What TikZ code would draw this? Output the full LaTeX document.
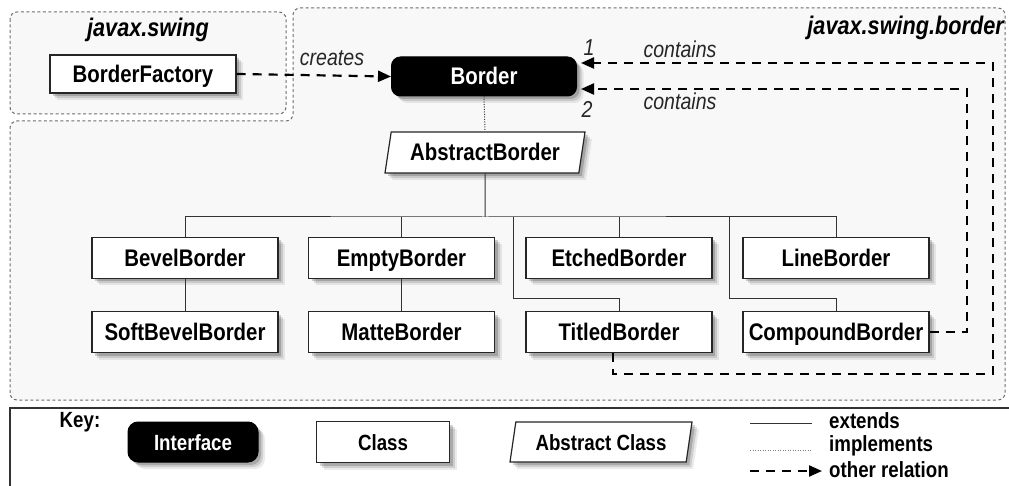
\documentclass[tikz,border=0pt]{standalone}
\usepackage{fontspec}
\setmainfont{Liberation Sans}[FakeStretch=0.85]
\usetikzlibrary{arrows.meta,shadows,shapes.geometric,calc}
\definecolor{pkgfill}{RGB}{248,248,248}
\definecolor{pkgline}{RGB}{110,110,110}
\newcommand\nfont{\fontsize{24}{27}\selectfont\bfseries}
\newcommand\lfont{\fontsize{23}{26}\selectfont\itshape}
\newcommand\pfont{\fontsize{25.5}{28}\selectfont\bfseries\itshape}
\newcommand\kfont{\fontsize{22}{25}\selectfont\bfseries}
\tikzset{
  shad/.style={drop shadow={shadow xshift=7pt,shadow yshift=-7pt,opacity=0.08,fill=black},
               drop shadow={shadow xshift=5pt,shadow yshift=-5pt,opacity=0.12,fill=black},
               drop shadow={shadow xshift=3pt,shadow yshift=-3pt,opacity=0.18,fill=black}},
  cls/.style={shad,draw=black!85,line width=1.2pt,fill=white,minimum width=186pt,minimum height=41pt,inner sep=0pt,font=\nfont,text height=17pt,text depth=0pt},
  ifc/.style={shad,draw=black,fill=black,text=white,rounded corners=9pt,line width=1pt,minimum width=185pt,minimum height=39pt,inner sep=0pt,font=\nfont,text height=17pt,text depth=0pt},
  abs/.style={shad,trapezium,trapezium left angle=70,trapezium right angle=110,trapezium stretches body=true,draw=black!85,line width=1.2pt,fill=white,minimum width=200pt,minimum height=41pt,inner sep=0pt,font=\nfont,text height=17pt,text depth=0pt},
  pkg/.style={draw=pkgline,fill=pkgfill,line width=1pt,dash pattern=on 3pt off 2.5pt,rounded corners=7pt},
  ext/.style={draw=black!80,line width=1pt},
  impl/.style={draw=black!80,line width=1pt,dash pattern=on 1pt off 1.5pt},
  rel/.style={draw=black,line width=2.2pt,dash pattern=on 9pt off 7pt,-{Triangle[length=13pt,width=11pt]}},
  lbl/.style={font=\lfont,inner sep=0pt,text=black!85},
  plbl/.style={font=\pfont,inner sep=0pt},
  ktxt/.style={font=\kfont,inner sep=0pt},
  kbox/.style={font=\kfont,text height=16pt,text depth=0pt},
}
\begin{document}
\begin{tikzpicture}[x=1pt,y=-1pt]
\useasboundingbox (0,0) rectangle (1009,486);
% packages
\path[pkg] (293,8) -- (1005,8) -- (1005,400) -- (10,400) -- (10,121) -- (293,121) -- cycle;
\path[pkg] (10,12) rectangle (286,114);
% key frame
\draw[black!80,line width=1.5pt] (1015,408) -- (10,408) -- (10,492);
% package labels
\node[plbl,anchor=base] (swlbl) at (148,37) {javax.swing};
\node[plbl,anchor=base east] (bolbl) at (1004,35) {javax.swing.border};
% classes
\node[cls,minimum height=38pt] (factory) at (143,74) {BorderFactory};
\node[ifc] (border) at (484,76.5) {Border};
\node[abs] (abstract) at (485,152.5) {AbstractBorder};
\node[cls] (bevel) at (185,258) {BevelBorder};
\node[cls] (empty) at (401.5,258) {EmptyBorder};
\node[cls] (etched) at (619,258) {EtchedBorder};
\node[cls] (line) at (836,258) {LineBorder};
\node[cls] (soft) at (185,332) {SoftBevelBorder};
\node[cls] (matte) at (401.5,332) {MatteBorder};
\node[cls] (titled) at (619,332) {TitledBorder};
\node[cls] (compound) at (836,332) {CompoundBorder};
% tree
\coordinate (bus) at (485,217);
\coordinate (tb) at (513,217);
\coordinate (cb) at (729,217);
\draw[impl] (border.south) -- (abstract.north);
\draw[ext] (abstract.south) -- (bus);
\draw[ext] (bevel.north) |- (bus) -| (line.north);
\draw[ext] (empty.north) -- (empty.north |- bus);
\draw[ext] (etched.north) -- (etched.north |- bus);
\draw[ext] (titled.north) -- ++(0,-12) -| (tb);
\draw[ext] (compound.north) -- ++(0,-12) -| (cb);
\draw[ext] (bevel.south) -- (soft.north);
\draw[ext] (empty.south) -- (matte.north);
% other relations
\draw[rel] (factory.east) -- (border.west);
\node[lbl,anchor=base] (creates) at (332,66) {creates};
\coordinate (c1) at (993,63);
\coordinate (c2) at (967,89);
\draw[rel] ([xshift=-6pt]titled.south) -- ++(0,21) -| (c1) -- ([yshift=13.5pt,xshift=4pt]border.east);
\draw[rel] (compound.east) -| (c2) -- ([yshift=-12.5pt,xshift=4pt]border.east);
\node[lbl,anchor=base] (n1) at (589,56) {1};
\node[lbl,anchor=base] (cont1) at (680,58) {contains};
\node[lbl,anchor=base] (n2) at (587,118) {2};
\node[lbl,anchor=base] (cont2) at (680,110) {contains};
% key
\node[ktxt,anchor=base] (key) at (80,427) {Key:};
\node[ifc,kbox,minimum width=130pt,minimum height=40pt,rounded corners=10pt] (kifc) at (193,442) {Interface};
\node[cls,kbox,minimum width=133pt] (kcls) at (383,442) {Class};
\node[abs,kbox,minimum width=182pt,minimum height=40pt] (kabs) at (601,442) {Abstract Class};
\coordinate (e1) at (750,423); \coordinate (e2) at (812,423);
\draw[ext] (e1) -- (e2);
\coordinate (i1) at (750,450); \coordinate (i2) at (812,450);
\draw[impl,draw=black!50] (i1) -- (i2);
\coordinate (o1) at (750,471); \coordinate (o2) at (822,471);
\draw[rel] (o1) -- (o2);
\node[ktxt,anchor=base west] (kext) at (829,428) {extends};
\node[ktxt,anchor=base west] (kimp) at (829,451) {implements};
\node[ktxt,anchor=base west] (kother) at (829,477) {other relation};
\end{tikzpicture}
\end{document}
